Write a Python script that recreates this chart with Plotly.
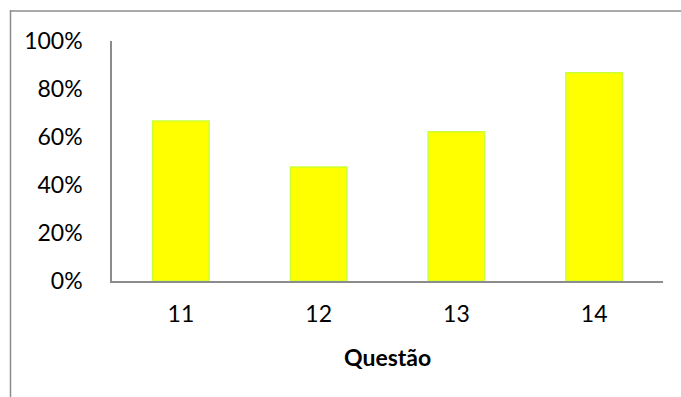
import plotly.graph_objects as go

# Share of correct answers per question
questoes = ["11", "12", "13", "14"]
acertos = [0.667, 0.475, 0.622, 0.868]
y_ticks = [0, 0.2, 0.4, 0.6, 0.8, 1.0]
y_tick_labels = ["0%", "20%", "40%", "60%", "80%", "100%"]

FONT = "Lato, 'Open Sans', sans-serif"
GRAY = "#8c8c8c"

fig = go.Figure(
    go.Bar(
        x=questoes,
        y=acertos,
        marker=dict(color="#ffff00", line=dict(color="#ccff33", width=1.5)),
    )
)

W, H = 681, 397
L, R, T, B = 112, 18, 41, 116
pw, ph = W - L - R, H - T - B

def px_x(px):
    return (px - L) / pw

def px_y(py):
    return (H - B - py) / ph

fig.update_layout(
    width=W,
    height=H,
    margin=dict(l=L, r=R, t=T, b=B),
    paper_bgcolor="white",
    plot_bgcolor="white",
    showlegend=False,
    bargap=0.59,
    font=dict(family=FONT, size=23, color="#000000"),
    xaxis=dict(
        showline=True,
        linecolor=GRAY,
        linewidth=1.5,
        showgrid=False,
        ticks="",
        ticklabelstandoff=12,
        tickfont=dict(size=23),
    ),
    yaxis=dict(
        range=[0, 1],
        tickvals=y_ticks,
        ticktext=y_tick_labels,
        showline=True,
        linecolor=GRAY,
        linewidth=1.5,
        showgrid=False,
        zeroline=False,
        ticks="",
        ticklabelstandoff=23,
        tickfont=dict(size=23),
    ),
    annotations=[
        dict(
            text="<b>Questão</b>",
            xref="paper",
            yref="paper",
            x=0.5,
            y=px_y(357),
            xanchor="center",
            yanchor="middle",
            showarrow=False,
            font=dict(size=23),
        )
    ],
    shapes=[
        # chart frame: top and left edges
        dict(type="line", xref="paper", yref="paper",
             x0=px_x(10), x1=px_x(W + 5), y0=px_y(11), y1=px_y(11),
             line=dict(color=GRAY, width=1.5)),
        dict(type="line", xref="paper", yref="paper",
             x0=px_x(10.5), x1=px_x(10.5), y0=px_y(10), y1=px_y(H + 5),
             line=dict(color=GRAY, width=1.5)),
    ],
)

fig.write_html("out.html")
